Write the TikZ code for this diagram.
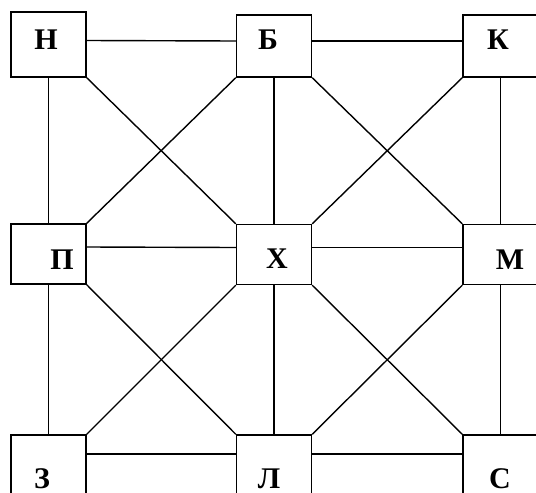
\documentclass[tikz,border=0pt]{standalone}
\usepackage{fontspec}
\setmainfont{Liberation Serif}
\begin{document}
\begin{tikzpicture}[x=1pt,y=-1pt,
  box/.style={draw,line width=1.4pt,rectangle,inner sep=0pt,minimum width=75pt},
  lbl/.style={anchor=base,inner sep=0pt,font=\fontsize{30}{30}\selectfont\bfseries},
  conn/.style={line width=1.4pt}]
\useasboundingbox (0,0) rectangle (536,493);
\clip (0,0) rectangle (536,493);
% boxes
\node[box,minimum height=65pt] (N) at (48.5,44.5) {};
\node[box,minimum height=62pt] (B) at (274,46) {};
\node[box,minimum height=62pt] (K) at (500.5,46) {};
\node[box,minimum height=60pt] (P) at (48.5,254) {};
\node[box,minimum height=60pt] (X) at (274,254.5) {};
\node[box,minimum height=60pt] (M) at (500.5,254.5) {};
\node[box,minimum height=62pt] (Z) at (48.5,466) {};
\node[box,minimum height=62pt] (L) at (274,466) {};
\node[box,minimum height=62pt] (S) at (500.5,466) {};
% labels
\node[lbl] (tN) at (46,49) {Н};
\node[lbl] (tB) at (268,49) {Б};
\node[lbl] (tK) at (498,49) {К};
\node[lbl] (tP) at (62,269) {П};
\node[lbl] (tX) at (277,268) {Х};
\node[lbl] (tM) at (510,269) {М};
\node[lbl] (tZ) at (42,488) {З};
\node[lbl] (tL) at (269,488) {Л};
\node[lbl] (tS) at (500,488) {С};
% horizontal connectors
\draw[conn] ([yshift=4pt]N.east) -- ([yshift=5pt]B.west);
\draw[conn] ([yshift=5pt]B.east) -- ([yshift=5pt]K.west);
\draw[conn] ([yshift=7pt]P.east) -- ([yshift=7pt]X.west);
\draw[conn] ([yshift=7pt]X.east) -- ([yshift=7pt]M.west);
\draw[conn] ([yshift=12pt]Z.east) -- ([yshift=12pt]L.west);
\draw[conn] ([yshift=12pt]L.east) -- ([yshift=12pt]S.west);
% vertical connectors
\draw[conn] (N.south) -- (P.north);
\draw[conn] (B.south) -- (X.north);
\draw[conn] (K.south) -- (M.north);
\draw[conn] (P.south) -- (Z.north);
\draw[conn] (X.south) -- (L.north);
\draw[conn] (M.south) -- (S.north);
% diagonals
\draw[conn] (N.south east) -- (X.north west);
\draw[conn] (B.south west) -- (P.north east);
\draw[conn] (B.south east) -- (M.north west);
\draw[conn] (K.south west) -- (X.north east);
\draw[conn] (P.south east) -- (L.north west);
\draw[conn] (X.south west) -- (Z.north east);
\draw[conn] (X.south east) -- (S.north west);
\draw[conn] (M.south west) -- (L.north east);
\end{tikzpicture}
\end{document}
